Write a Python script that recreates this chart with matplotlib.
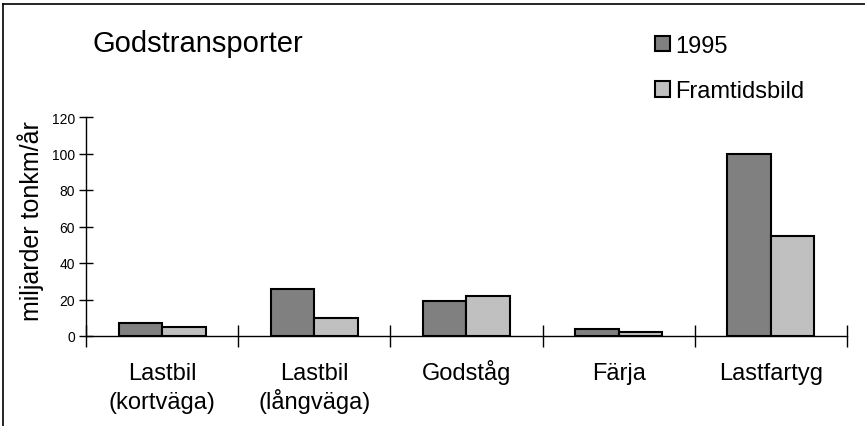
import matplotlib
matplotlib.use("Agg")
import matplotlib.pyplot as plt
import matplotlib.transforms as mtransforms
from matplotlib.lines import Line2D
import numpy as np

plt.rcParams['font.family'] = ['Liberation Sans', 'DejaVu Sans']

categories = ["Lastbil\n(kortväga)", "Lastbil\n(långväga)", "Godståg", "Färja", "Lastfartyg"]
series_names = ["1995", "Framtidsbild"]
values_1995 = [7, 26, 19, 4, 100]
values_future = [5, 10, 22, 2, 55]
y_ticks = [0, 20, 40, 60, 80, 100, 120]

W, H = 865, 427
fig = plt.figure(figsize=(W / 100, H / 100), dpi=100)
ax = fig.add_axes([86 / W, 1 - 337 / H, (847 - 86) / W, (337 - 118) / H])

x = np.arange(len(categories))
bw = 0.286
ax.bar(x - bw / 2, values_1995, bw, color="#808080", edgecolor="black",
       linewidth=1.5, label=series_names[0], zorder=3)
ax.bar(x + bw / 2, values_future, bw, color="#c0c0c0", edgecolor="black",
       linewidth=1.5, label=series_names[1], zorder=3)

ax.set_xlim(-0.5, len(categories) - 0.5)
ax.set_ylim(0, 120)
ax.set_yticks(y_ticks)
ax.set_yticklabels([str(v) for v in y_ticks], fontsize=10)
ax.tick_params(axis="y", direction="inout", length=10, width=1, pad=3)

# category boundaries as ticks on the x axis
ax.set_xticks(np.arange(-0.5, len(categories), 1.0))
ax.set_xticklabels([])
ax.tick_params(axis="x", which="major", direction="inout", length=16, width=1)

# category names: each line on its own baseline below the axis
trans = mtransforms.blended_transform_factory(ax.transData, fig.transFigure)
line_baselines = [380, 409]
for xi, name in zip(x, categories):
    for line, yb in zip(name.split("\n"), line_baselines):
        ax.text(xi, 1 - yb / H, line, transform=trans, ha="center", va="baseline",
                fontsize=17)

for side in ("top", "right"):
    ax.spines[side].set_visible(False)
for side in ("left", "bottom"):
    ax.spines[side].set_linewidth(1)

ax.set_ylabel("miljarder tonkm/år", fontsize=18)
ax.yaxis.set_label_coords(-0.055, 0.53)

fig.text(92 / W, 1 - 44 / H, "Godstransporter", fontsize=21, va="center", ha="left")

fig.legend(loc="upper left", bbox_to_anchor=(643 / W, 1 - 24 / H), frameon=False,
           fontsize=17, handlelength=0.65, handleheight=0.65, handletextpad=0.2,
           labelspacing=1.0, borderpad=0)

# frame around the figure (left and top edges)
fig.add_artist(Line2D([3.5 / W, 3.5 / W], [0, 1 - 5 / H], transform=fig.transFigure,
                      color="black", linewidth=1.2))
fig.add_artist(Line2D([3.5 / W, 1], [1 - 5 / H, 1 - 5 / H], transform=fig.transFigure,
                      color="black", linewidth=1.2))

fig.savefig("out.png", dpi=100)
